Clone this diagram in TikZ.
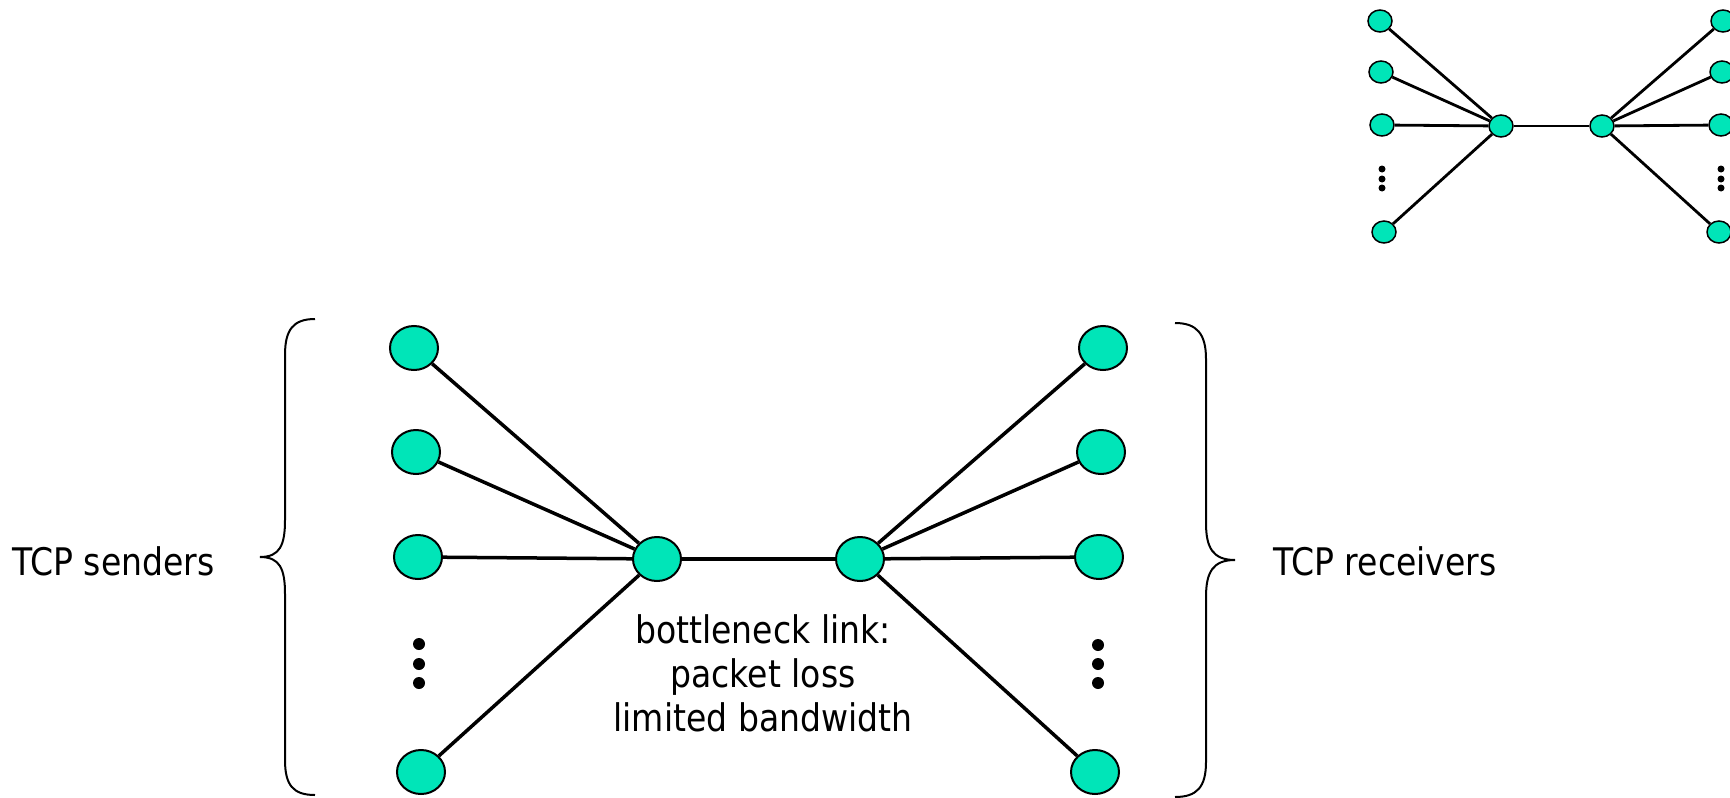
\documentclass[tikz,border=0pt]{standalone}
\usepackage{fontspec}
\setmainfont{DejaVu Sans}[FakeStretch=0.87]
\usetikzlibrary{shapes.geometric}
\definecolor{hostfill}{RGB}{0,229,184}
\tikzset{
  host/.style={ellipse, draw=black, line width=2bp, fill=hostfill, inner sep=0pt, minimum width=48bp, minimum height=44bp},
  smallhost/.style={ellipse, draw=black, line width=1.5bp, fill=hostfill, inner sep=0pt, minimum width=24bp, minimum height=22bp},
  link/.style={line width=3.5bp, black},
  smalllink/.style={line width=2.8bp, black},
  bigdot/.style={circle, fill=black, inner sep=0pt, minimum size=12bp},
  smalldot/.style={circle, fill=black, inner sep=0pt, minimum size=7bp},
  brace/.style={line width=2bp, black},
  label/.style={inner sep=0pt, font=\fontsize{38bp}{44bp}\selectfont}
}
\begin{document}
\begin{tikzpicture}[x=1bp, y=-1bp]
\useasboundingbox (0,0) rectangle (1730,798);
\clip (0,0) rectangle (1730,798);

% ---- main dumbbell ----
\node[host] (s1) at (414,348) {};
\node[host] (s2) at (416,452) {};
\node[host] (s3) at (418,557) {};
\node[host] (s4) at (421,772) {};
\node[host] (r1) at (657,559) {};
\node[host] (r2) at (860,559) {};
\node[host] (t1) at (1103,348) {};
\node[host] (t2) at (1101,452) {};
\node[host] (t3) at (1099,557) {};
\node[host] (t4) at (1095,772) {};

\foreach \s in {s1,s2,s3,s4} \draw[link] (\s) -- (r1);
\draw[link] (r1) -- (r2);
\foreach \t in {t1,t2,t3,t4} \draw[link] (r2) -- (\t);

\node[bigdot] (ld1) at (419,644) {};
\node[bigdot] (ld2) at (419,664) {};
\node[bigdot] (ld3) at (419,683) {};
\node[bigdot] (rd1) at (1098,645) {};
\node[bigdot] (rd2) at (1098,664) {};
\node[bigdot] (rd3) at (1098,683) {};

% ---- braces ----
\draw[brace] (315,319) .. controls (293,319) and (285,330) .. (285,355)
  -- (285,520) .. controls (285,545) and (280,557) .. (260,557)
  .. controls (280,557) and (285,569) .. (285,594)
  -- (285,760) .. controls (285,785) and (293,795) .. (315,795);
\draw[brace] (1175,323) .. controls (1197,323) and (1206,334) .. (1206,359)
  -- (1206,523) .. controls (1206,548) and (1213,560) .. (1235,560)
  .. controls (1213,560) and (1206,572) .. (1206,597)
  -- (1206,762) .. controls (1206,787) and (1197,797) .. (1175,797);

% ---- labels ----
\node[label, anchor=base west] (snd) at (12,575) {TCP senders};
\node[label, anchor=base west] (rcv) at (1273,575) {TCP receivers};
\node[label, anchor=base] (bn1) at (763,643) {bottleneck link:};
\node[label, anchor=base] (bn2) at (763,687) {packet loss};
\node[label, anchor=base] (bn3) at (763,731) {limited bandwidth};

% ---- small dumbbell ----
\node[smallhost] (a1) at (1380,21) {};
\node[smallhost] (a2) at (1381,72) {};
\node[smallhost] (a3) at (1382,125) {};
\node[smallhost] (a4) at (1384,232) {};
\node[smallhost] (b1) at (1501,126) {};
\node[smallhost] (b2) at (1602,126) {};
\node[smallhost] (c1) at (1723,21) {};
\node[smallhost] (c2) at (1722,72) {};
\node[smallhost] (c3) at (1721,125) {};
\node[smallhost] (c4) at (1719,232) {};

\foreach \s in {a1,a2,a3,a4} \draw[smalllink] (\s) -- (b1);
\draw[smalllink] (b1) -- (b2);
\foreach \t in {c1,c2,c3,c4} \draw[smalllink] (b2) -- (\t);

\node[smalldot] (sd1) at (1382,169) {};
\node[smalldot] (sd2) at (1382,179) {};
\node[smalldot] (sd3) at (1382,188) {};
\node[smalldot] (sd4) at (1721,169) {};
\node[smalldot] (sd5) at (1721,179) {};
\node[smalldot] (sd6) at (1721,188) {};
\end{tikzpicture}
\end{document}
